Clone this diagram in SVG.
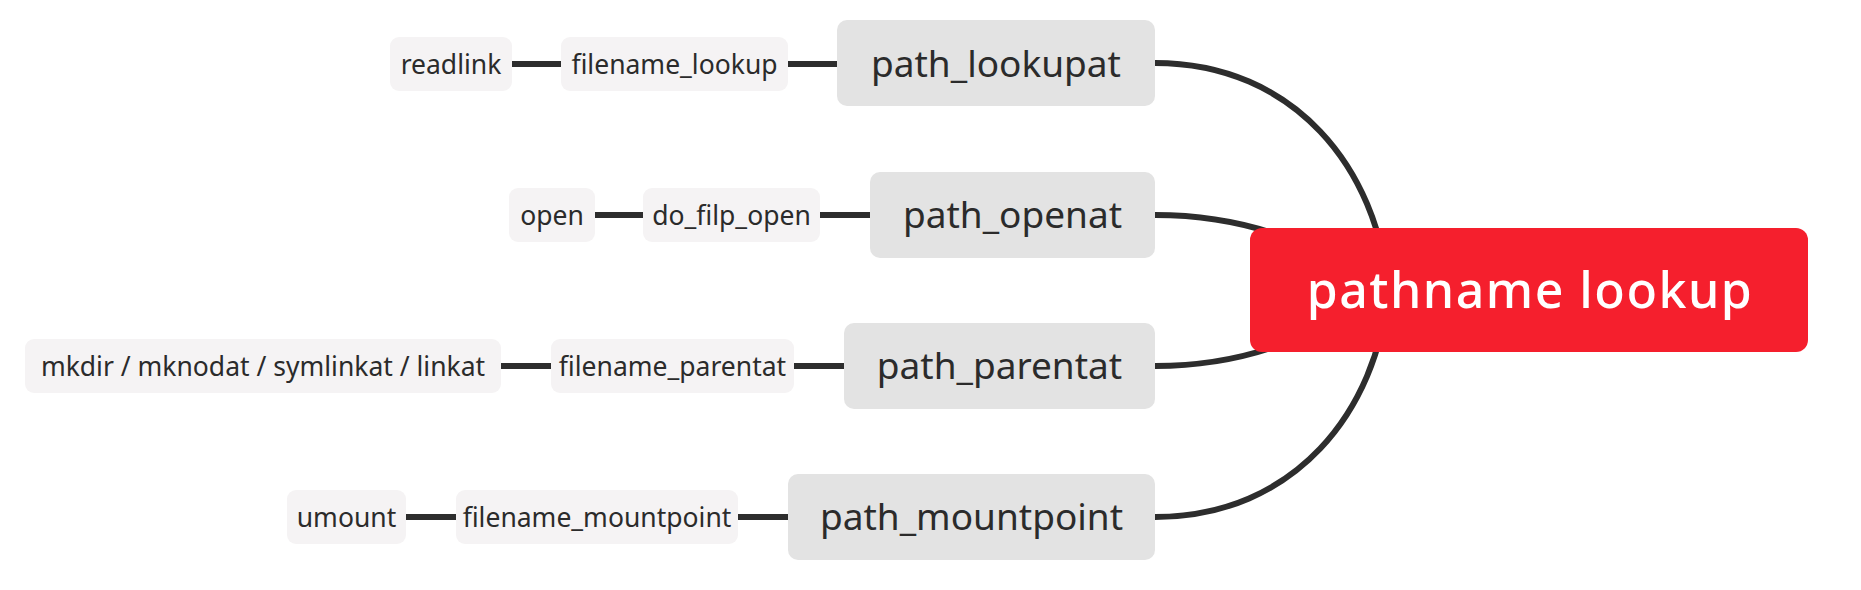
<svg xmlns="http://www.w3.org/2000/svg" width="1861" height="590" viewBox="0 0 1861 590">
<style>
.l2 rect{fill:#F5F3F4}
.l1 rect{fill:#E3E3E3}
.t2{font-family:"Noto Sans","Open Sans",sans-serif;font-size:26.5px;fill:#2B2B2B;text-anchor:middle}
.t1{font-family:"Noto Sans","Open Sans",sans-serif;font-size:37px;fill:#2B2B2B;text-anchor:middle}
.t0{font-family:"Noto Sans","Open Sans",sans-serif;font-size:50px;font-weight:500;fill:#FFFFFF;text-anchor:middle;letter-spacing:1.5px}
.c{fill:none;stroke:#2D2D2D;stroke-width:6}
</style>
<rect width="1861" height="590" fill="#FFFFFF"/>
<g id="connectors">
<path class="c" d="M1155 63 C1295 63 1378 170 1388 290"/>
<path class="c" d="M1155 215 C1240 215 1305 238 1390 290"/>
<path class="c" d="M1155 366 C1240 366 1305 342 1390 290"/>
<path class="c" d="M1155 517 C1295 517 1378 410 1388 290"/>
<path class="c" d="M512 64 H561 M788 64 H837"/>
<path class="c" d="M595 215 H643 M820 215 H870"/>
<path class="c" d="M501 366 H551 M794 366 H844"/>
<path class="c" d="M406 517 H456 M738 517 H788"/>
</g>
<g id="main">
<rect x="1250" y="228" width="558" height="124" rx="12" fill="#F51F2D"/>
<text class="t0" x="1530" y="308">pathname lookup</text>
</g>
<g id="path_lookupat" class="l1"><rect x="837" y="20" width="318" height="86" rx="10"/><text class="t1" x="996" y="76.5">path_lookupat</text></g>
<g id="path_openat" class="l1"><rect x="870" y="172" width="285" height="86" rx="10"/><text class="t1" x="1012.5" y="228">path_openat</text></g>
<g id="path_parentat" class="l1"><rect x="844" y="323" width="311" height="86" rx="10"/><text class="t1" x="999.5" y="379">path_parentat</text></g>
<g id="path_mountpoint" class="l1"><rect x="788" y="474" width="367" height="86" rx="10"/><text class="t1" x="971.5" y="530">path_mountpoint</text></g>
<g id="filename_lookup" class="l2"><rect x="561" y="37" width="227" height="54" rx="9"/><text class="t2" x="674.5" y="73.5">filename_lookup</text></g>
<g id="readlink" class="l2"><rect x="390" y="37" width="122" height="54" rx="9"/><text class="t2" x="451" y="73.5">readlink</text></g>
<g id="do_filp_open" class="l2"><rect x="643" y="188" width="177" height="54" rx="9"/><text class="t2" x="731.5" y="224.5">do_filp_open</text></g>
<g id="open" class="l2"><rect x="509" y="188" width="86" height="54" rx="9"/><text class="t2" x="552" y="224.5">open</text></g>
<g id="filename_parentat" class="l2"><rect x="551" y="339" width="243" height="54" rx="9"/><text class="t2" x="672.5" y="375.5">filename_parentat</text></g>
<g id="mkdir" class="l2"><rect x="25" y="339" width="476" height="54" rx="9"/><text class="t2" x="263" y="375.5">mkdir / mknodat / symlinkat / linkat</text></g>
<g id="filename_mountpoint" class="l2"><rect x="456" y="490" width="282" height="54" rx="9"/><text class="t2" x="597" y="526.5">filename_mountpoint</text></g>
<g id="umount" class="l2"><rect x="287" y="490" width="119" height="54" rx="9"/><text class="t2" x="346.5" y="526.5">umount</text></g>
</svg>
